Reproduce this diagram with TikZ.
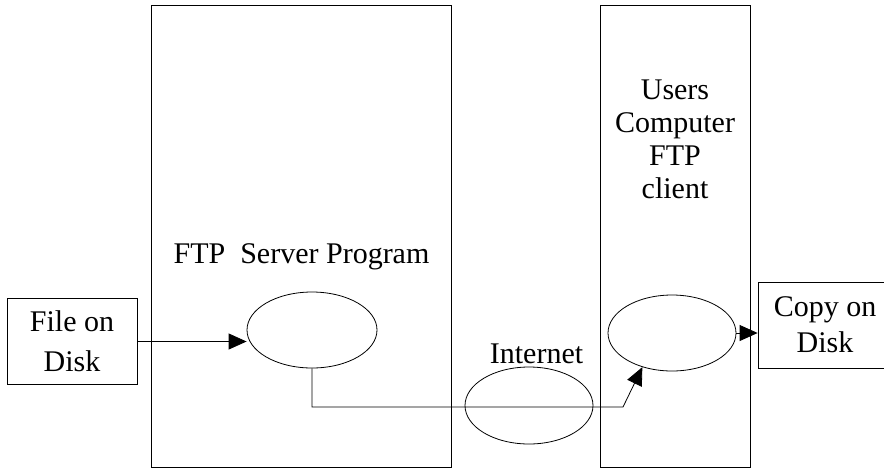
\documentclass[tikz,border=0pt]{standalone}
\usepackage{fontspec}
\setmainfont{Liberation Serif}
\usetikzlibrary{arrows.meta,shapes.geometric}
\tikzset{>={Triangle[length=9pt,width=8pt]},line width=.9pt,
  every node/.style={font=\fontsize{15}{17}\selectfont},
  panel/.style={draw,minimum width=#1,minimum height=231pt,inner sep=0pt},
  store/.style={draw,align=center,minimum width=65pt,minimum height=43pt,inner sep=0pt},
  proc/.style={draw,ellipse,minimum width=64pt,minimum height=38pt,inner sep=0pt},
  link/.style={->}}

\begin{document}
\begin{tikzpicture}[x=0.5pt,y=-0.5pt]
\useasboundingbox (0,0) rectangle (884,472);
\clip (0,0) rectangle (884,472);
\node[panel=150pt] (srvbox) at (301,236) {};
\node[panel=75pt] (clibox) at (675,236) {};
\node[anchor=base] (srvlabel) at (301.5,263) {FTP\enspace Server Program};
\node[align=center,font=\fontsize{15}{16.5}\selectfont] (clilabel) at (675,139)
  {Users\\Computer\\FTP\\client};
\node[store,font=\fontsize{15}{20}\selectfont] (file) at (72,341.5) {File on\\Disk};
\node[store,minimum width=67pt,font=\fontsize{15}{18}\selectfont] (copy) at (825,325) {Copy on\\Disk};
\node[proc,minimum width=65pt] (server) at (312,330) {};
\node[proc] (client) at (672,333) {};
\node[proc,minimum height=38.5pt] (net) at (529,405.5) {};
\node[anchor=base] (netlabel) at (536.5,363) {Internet};
\coordinate (bend) at (623,407);
\draw[link] (file.east) -- (file.east -| server.west);
\draw[link] (server.south) |- (bend) -- (client.229);
\draw[link] (client.east) -- (client.east -| copy.west);
\end{tikzpicture}
\end{document}
